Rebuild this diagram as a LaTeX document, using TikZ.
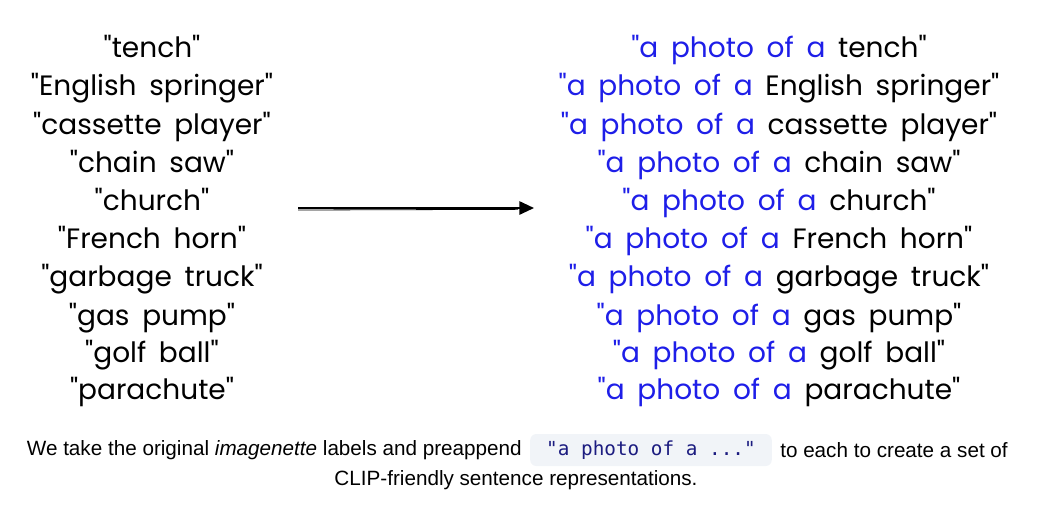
\documentclass[tikz,border=0pt]{standalone}
\usepackage{fontspec}
\setmainfont{Liberation Sans}
\newfontfamily\handfont[WordSpace=1.7]{Poppins}
\setmonofont{DejaVu Sans Mono}
\usetikzlibrary{positioning,arrows.meta}
\definecolor{penblue}{HTML}{1E1EE8}
\definecolor{codebg}{HTML}{F1F4F8}
\definecolor{codeink}{HTML}{1C1C80}

\begin{document}
\begin{tikzpicture}[x=0.75pt,y=-0.75pt,
    label/.style ={inner sep=0pt, anchor=base, font=\handfont\fontsize{21pt}{24pt}\selectfont},
    caption/.style ={inner sep=0pt, font=\fontsize{15.5pt}{18pt}\selectfont},
    code/.style ={fill=codebg, rounded corners=4.5pt, inner xsep=12pt, inner ysep=0pt,
                  minimum height=24pt, text=codeink,
                  font=\ttfamily\fontsize{14.5pt}{17pt}\selectfont}]
   \useasboundingbox (0,0) rectangle (1040,512);

   % labels before and after
   \foreach \name/\y [count=\i] in {tench/57, English springer/95, cassette player/134,
       chain saw/172, church/210, French horn/248, garbage truck/286,
       gas pump/325, golf ball/362, parachute/399} {
     \node[label] (l\i) at (152,\y) {"\name"};
     \node[label] (r\i) at (779,\y) {\textcolor{penblue}{"a photo of a} \name"};
   }

   \coordinate (from) at (298,208);
   \coordinate (to) at (534,208);
   \draw[line width=1.4pt, -{Triangle[length=11pt,width=10pt]}] (from) to (to);
   \draw[line width=0.6pt] ([yshift=-1.5pt]from) to ([xshift=-12pt,yshift=-1pt]to);

   % caption
   \node[code] (code) at (651,450) {"a photo of a ..."};
   \node[caption, left=6pt of code] (capA) {We take the original \textit{imagenette} labels and preappend};
   \node[caption, right=6pt of code] (capB) {to each to create a set of};
   \node[caption] (capC) at (516,480) {CLIP-friendly sentence representations.};
\end{tikzpicture}
\end{document}
